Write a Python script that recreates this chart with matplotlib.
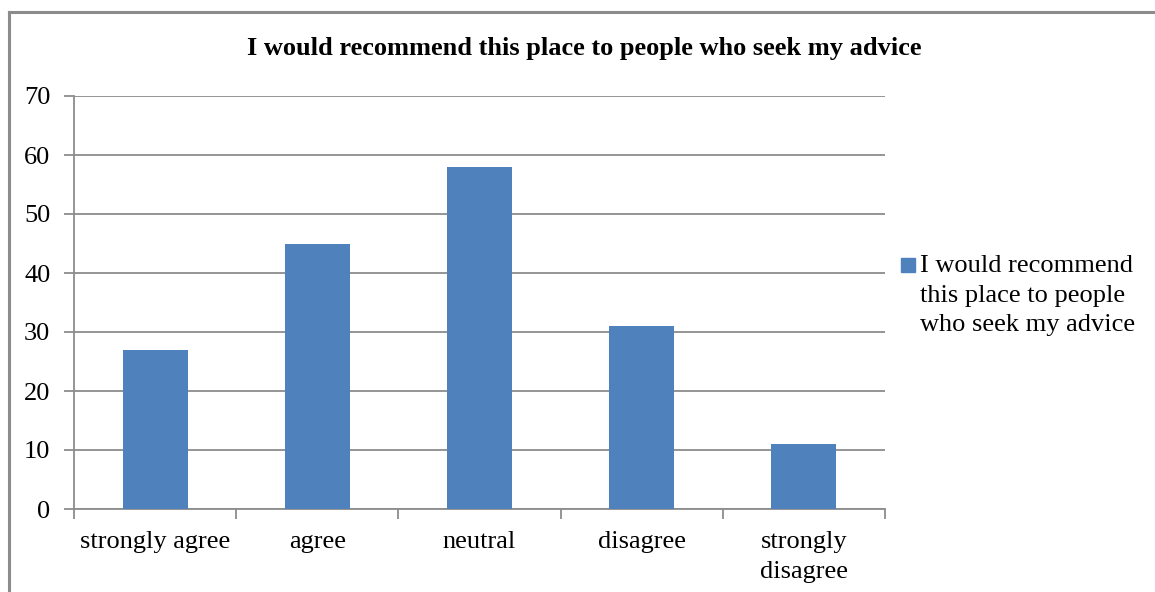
import matplotlib
matplotlib.use('Agg')
import matplotlib.pyplot as plt
from matplotlib.lines import Line2D
from matplotlib.patches import Rectangle

# survey answers
categories = ['strongly agree', 'agree', 'neutral', 'disagree', 'strongly\ndisagree']
counts = [27, 45, 58, 31, 11]
yticks = [0, 10, 20, 30, 40, 50, 60, 70]
title = 'I would recommend this place to people who seek my advice'
legend_label = 'I would recommend\nthis place to people\nwho seek my advice'

W, H = 1155, 592
bar_color = '#4f81bd'
grid_color = '#8c8c8c'
fs = 19

plt.rcParams['font.family'] = ['Liberation Serif', 'DejaVu Serif']

fig = plt.figure(figsize=(W / 100, H / 100), dpi=100)
ax = fig.add_axes([74 / W, 1 - 509 / H, (885 - 74) / W, (509 - 96) / H])

x = list(range(len(categories)))
ax.bar(x, counts, width=0.4, color=bar_color, zorder=3)

ax.set_xlim(-0.5, len(categories) - 0.5)
ax.set_ylim(0, 70)
ax.set_yticks(yticks)
ax.set_yticklabels([str(v) for v in yticks], fontsize=fs)
ax.yaxis.grid(True, color=grid_color, linewidth=1.3, zorder=0)

# category labels centred, ticks on the boundaries
ax.set_xticks(x)
ax.set_xticklabels(categories, fontsize=fs, linespacing=1.45)
ax.tick_params(axis='x', length=0, pad=16)
ax.set_xticks([i - 0.5 for i in range(len(categories) + 1)], minor=True)
ax.tick_params(axis='x', which='minor', length=7, width=1.3, color=grid_color)
ax.tick_params(axis='y', length=7, width=1.3, color=grid_color, pad=10)

for s in ['top', 'right']:
    ax.spines[s].set_visible(False)
for s in ['left', 'bottom']:
    ax.spines[s].set_color(grid_color)
    ax.spines[s].set_linewidth(1.3)

fig.text(584 / W, 1 - 48 / H, title, ha='center', va='center',
         fontsize=fs, fontweight='bold')

# legend drawn by hand, Excel style
fig.patches.append(Rectangle((901 / W, 1 - 272 / H), 14 / W, 14 / H,
                             transform=fig.transFigure, color=bar_color))
fig.text(920 / W, 1 - 255 / H, legend_label, ha='left', va='top',
         fontsize=fs, linespacing=1.45)

# outer chart frame (left and top edges visible)
fig.add_artist(Line2D([9 / W, 9 / W], [0, 1 - 12 / H], transform=fig.transFigure,
                      color=grid_color, linewidth=2.2))
fig.add_artist(Line2D([9 / W, 1], [1 - 12 / H, 1 - 12 / H], transform=fig.transFigure,
                      color=grid_color, linewidth=2.2))

fig.savefig('out.png', dpi=100)
